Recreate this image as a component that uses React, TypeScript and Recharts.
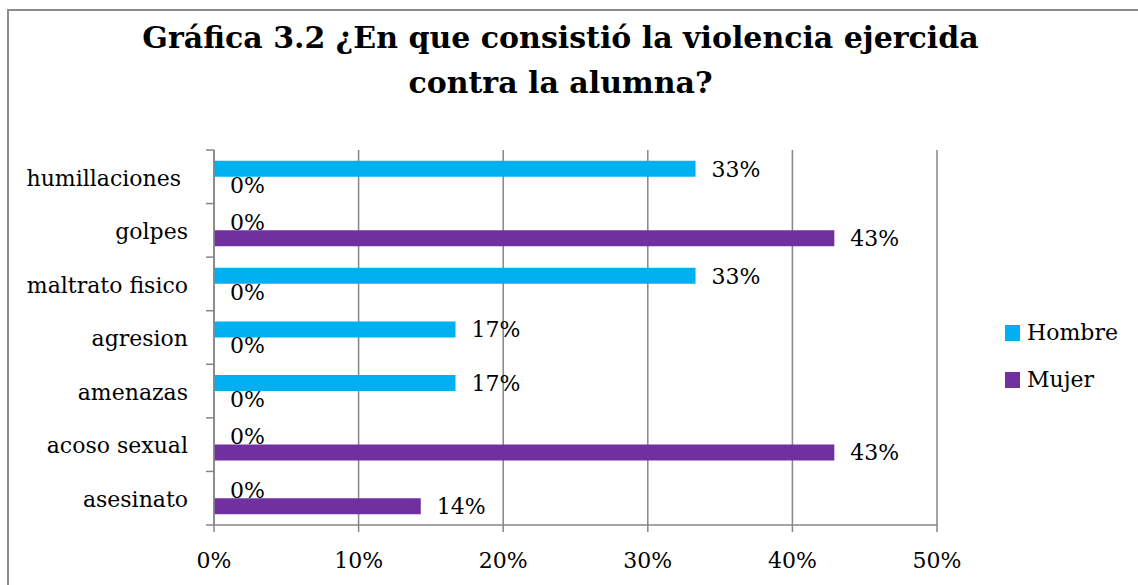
import React from "react";
import { BarChart, Bar, XAxis, YAxis, CartesianGrid, LabelList } from "recharts";

const titleLines = ["Gráfica 3.2 ¿En que consistió la violencia ejercida", "contra la alumna?"];
const categories = ["humillaciones ", "golpes", "maltrato fisico", "agresion", "amenazas", "acoso sexual", "asesinato"];
const hombre = [0.333, 0, 0.333, 0.167, 0.167, 0, 0];
const mujer = [0, 0.429, 0, 0, 0, 0.429, 0.143];
const seriesNames = ["Hombre", "Mujer"];
const seriesColors = ["#00B0F0", "#7030A0"];
const xTicks = [0, 0.1, 0.2, 0.3, 0.4, 0.5];

const data = categories.map((name, i) => ({ name, hombre: hombre[i], mujer: mujer[i] }));

const W = 1138;
const H = 585;
const PLOT_LEFT = 214;
const PLOT_TOP = 150;
const PLOT_RIGHT = 937;
const XAXIS_H = 60;
const PLOT_H = H - XAXIS_H - PLOT_TOP;
const BAND = PLOT_H / categories.length;
const FONT = "'DejaVu Serif', serif";
const GRAY = "#868686";

const pct = (v: number) => `${Math.round(v * 100)}%`;

const YTick = (props: any) => {
  const { y, payload, index } = props;
  const top = y - BAND / 2;
  return (
    <g>
      <line x1={PLOT_LEFT - 8} x2={PLOT_LEFT} y1={top} y2={top} stroke={GRAY} strokeWidth={1.5} />
      {index === categories.length - 1 && (
        <line x1={PLOT_LEFT - 8} x2={PLOT_LEFT} y1={top + BAND} y2={top + BAND} stroke={GRAY} strokeWidth={1.5} />
      )}
      <text
        x={PLOT_LEFT - 26}
        y={y}
        dy="0.4em"
        textAnchor="end"
        fill="#000"
        style={{ fontFamily: FONT, fontSize: 22, whiteSpace: "pre" }}
      >
        {payload.value}
      </text>
    </g>
  );
};

const labelStyle = { fill: "#000", fontSize: 22, fontFamily: FONT };

export default function App() {
  return (
    <div style={{ position: "absolute", left: 0, top: 0, width: W, height: H, background: "#fff", overflow: "hidden" }}>
      <div
        style={{
          position: "absolute",
          left: 7,
          top: 9,
          width: W + 20,
          height: H + 20,
          border: `2px solid #8c8c8c`,
          boxSizing: "border-box",
        }}
      />
      <div style={{ position: "absolute", left: 0, top: 0 }}>
        <BarChart
          width={W}
          height={H}
          layout="vertical"
          data={data}
          margin={{ top: PLOT_TOP, right: W - PLOT_RIGHT, bottom: 0, left: 0 }}
          barCategoryGap="20%"
          barGap={0}
        >
          <CartesianGrid horizontal={false} stroke={GRAY} strokeWidth={1.5} />
          <XAxis
            type="number"
            domain={[0, 0.5]}
            ticks={xTicks}
            tickFormatter={pct}
            height={XAXIS_H}
            tickSize={7}
            tickMargin={20}
            axisLine={{ stroke: GRAY, strokeWidth: 1.5 }}
            tickLine={{ stroke: GRAY, strokeWidth: 1.5 }}
            tick={{ fill: "#000", fontSize: 22, fontFamily: FONT }}
          />
          <YAxis
            type="category"
            dataKey="name"
            width={PLOT_LEFT}
            interval={0}
            tickLine={false}
            axisLine={{ stroke: GRAY, strokeWidth: 1.5 }}
            tick={<YTick />}
          />
          <Bar dataKey="hombre" name={seriesNames[0]} fill={seriesColors[0]} minPointSize={0.01} isAnimationActive={false}>
            <LabelList
              dataKey="hombre"
              position="right"
              offset={16}
              formatter={(v: any) => pct(Number(v))}
              style={labelStyle}
            />
          </Bar>
          <Bar dataKey="mujer" name={seriesNames[1]} fill={seriesColors[1]} minPointSize={0.01} isAnimationActive={false}>
            <LabelList
              dataKey="mujer"
              position="right"
              offset={16}
              formatter={(v: any) => pct(Number(v))}
              style={labelStyle}
            />
          </Bar>
        </BarChart>
      </div>
      <div
        style={{
          position: "absolute",
          left: 0,
          top: 15,
          width: 1121,
          textAlign: "center",
          fontFamily: FONT,
          fontWeight: "bold",
          fontSize: 30,
          lineHeight: "45px",
          color: "#000",
        }}
      >
        {titleLines.map((t) => (
          <div key={t}>{t}</div>
        ))}
      </div>
      <div style={{ position: "absolute", left: 1005, top: 309, fontFamily: FONT, fontSize: 22 }}>
        {seriesNames.map((n, i) => (
          <div key={n} style={{ display: "flex", alignItems: "center", height: 47 }}>
            <div style={{ width: 15, height: 16, background: seriesColors[i], marginRight: 7 }} />
            <span>{n}</span>
          </div>
        ))}
      </div>
    </div>
  );
}
